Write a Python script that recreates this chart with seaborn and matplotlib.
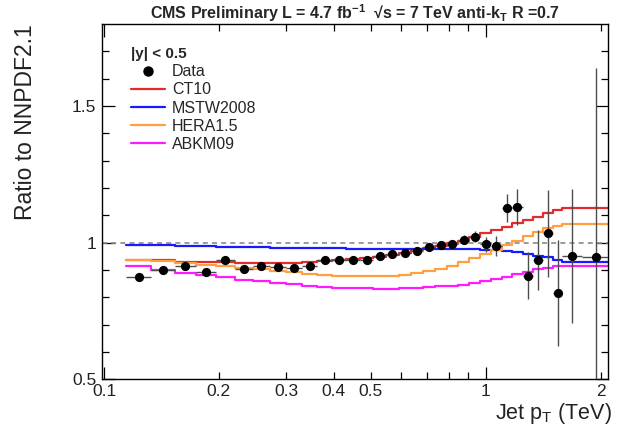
import numpy as np
import pandas as pd
import matplotlib
matplotlib.use("Agg")
import matplotlib.pyplot as plt
import seaborn as sns
from matplotlib.ticker import FixedLocator, FixedFormatter, NullFormatter
from matplotlib.lines import Line2D

# ---------------- data ----------------
bin_edges_gev = [114, 133, 153, 174, 196, 220, 245, 272, 300, 330, 362, 395, 430, 468,
                 507, 548, 592, 638, 686, 737, 790, 846, 905, 967, 1032, 1101, 1172,
                 1248, 1327, 1410, 1497, 1588, 1784, 2116]

data_ratio = [0.876, 0.901, 0.915, 0.894, 0.938, 0.905, 0.915, 0.911, 0.908, 0.916,
              0.935, 0.935, 0.938, 0.937, 0.950, 0.960, 0.961, 0.971, 0.984, 0.990,
              0.996, 1.011, 1.022, 0.994, 0.988, 1.127, 1.132, 0.880, 0.936, 1.034,
              0.815, 0.953, 0.948]
data_err = [0.006] * 13 + [0.007, 0.008, 0.008, 0.009, 0.010, 0.011, 0.012, 0.014,
                           0.016, 0.019, 0.027, 0.035, 0.051, 0.066, 0.085, 0.110,
                           0.158, 0.194, 0.245, 0.690]

ct10 = [0.937, 0.937, 0.929, 0.928, 0.928, 0.927, 0.926, 0.926, 0.927, 0.929, 0.932,
        0.935, 0.939, 0.943, 0.948, 0.955, 0.963, 0.972, 0.980, 0.988, 0.998, 1.008,
        1.020, 1.034, 1.046, 1.056, 1.071, 1.083, 1.095, 1.108, 1.118, 1.127, 1.127]
mstw2008 = [0.992, 0.991, 0.989, 0.988, 0.986, 0.985, 0.983, 0.982, 0.981, 0.980,
            0.980, 0.979, 0.978, 0.977, 0.977, 0.977, 0.977, 0.977, 0.977, 0.977,
            0.977, 0.976, 0.976, 0.974, 0.972, 0.970, 0.966, 0.960, 0.953, 0.947,
            0.938, 0.928, 0.928]
hera15 = [0.937, 0.932, 0.926, 0.920, 0.913, 0.908, 0.903, 0.897, 0.892, 0.887, 0.883,
          0.880, 0.878, 0.877, 0.877, 0.878, 0.882, 0.889, 0.897, 0.905, 0.915, 0.930,
          0.943, 0.958, 0.975, 0.993, 1.008, 1.025, 1.040, 1.053, 1.062, 1.067, 1.067]
abkm09 = [0.913, 0.901, 0.889, 0.883, 0.873, 0.864, 0.860, 0.853, 0.848, 0.843, 0.839,
          0.836, 0.834, 0.833, 0.832, 0.832, 0.833, 0.834, 0.837, 0.840, 0.843, 0.847,
          0.853, 0.860, 0.868, 0.876, 0.885, 0.893, 0.902, 0.908, 0.913, 0.916, 0.916]

theory_names = ["CT10", "MSTW2008", "HERA1.5", "ABKM09"]
theory_values = [ct10, mstw2008, hera15, abkm09]
theory_colors = ["#e32b2b", "#1a1aff", "#ff9f3f", "#ff1aff"]

xtick_major = [0.1, 1]
xtick_major_labels = ["0.1", "1"]
xtick_minor = [0.2, 0.3, 0.4, 0.5, 0.6, 0.7, 0.8, 0.9, 2]
xtick_minor_labels = ["0.2", "0.3", "0.4", "0.5", "", "", "", "", "2"]
ytick_major = [0.5, 1.0, 1.5]
ytick_major_labels = ["0.5", "1", "1.5"]
ytick_minor = [0.6, 0.7, 0.8, 0.9, 1.1, 1.2, 1.3, 1.4, 1.6, 1.7]

# ---------------- derived ----------------
edges = np.array(bin_edges_gev) / 1000.0
lo, hi = edges[:-1], edges[1:]
centers = np.sqrt(lo * hi)

sns.set_theme(style="ticks")
plt.rcParams["font.family"] = ["Liberation Sans", "DejaVu Sans"]
plt.rcParams["mathtext.fontset"] = "custom"
plt.rcParams["mathtext.rm"] = "Liberation Sans"
plt.rcParams["mathtext.it"] = "Liberation Sans"
plt.rcParams["mathtext.bf"] = "Liberation Sans:bold"

W, H = 617, 437
fig = plt.figure(figsize=(W / 100, H / 100), dpi=100)
ax = fig.add_axes([102 / W, 1 - 379.4 / H, (608 - 102) / W, (379.4 - 24) / H])
ax.set_xscale("log")

ax.axhline(1.0, color="#8a8a8a", lw=1.2, ls=(0, (3, 2.5)), zorder=1)

for name, vals, col in zip(theory_names, theory_values, theory_colors):
    df = pd.DataFrame({"x": edges, "y": list(vals) + [vals[-1]]})
    sns.lineplot(data=df, x="x", y="y", ax=ax, color=col, lw=1.6,
                 drawstyle="steps-post", estimator=None, sort=False, zorder=2)

ax.errorbar(centers, data_ratio, yerr=data_err,
            xerr=[centers - lo, hi - centers], fmt="none",
            ecolor="#4d4d4d", elinewidth=1.0, capsize=0, zorder=3)
sns.scatterplot(x=centers, y=data_ratio, ax=ax, color="black", s=44,
                edgecolor="black", linewidth=0, zorder=4)

ax.set_xlim(0.0988, 2.09)
ax.set_ylim(0.5, 1.8)
ax.set_xlabel("")
ax.set_ylabel("")

ax.xaxis.set_major_locator(FixedLocator(xtick_major))
ax.xaxis.set_major_formatter(FixedFormatter(xtick_major_labels))
ax.xaxis.set_minor_locator(FixedLocator(xtick_minor))
ax.xaxis.set_minor_formatter(FixedFormatter(xtick_minor_labels))
ax.yaxis.set_major_locator(FixedLocator(ytick_major))
ax.yaxis.set_major_formatter(FixedFormatter(ytick_major_labels))
ax.yaxis.set_minor_locator(FixedLocator(ytick_minor))
ax.yaxis.set_minor_formatter(NullFormatter())

ax.tick_params(which="both", direction="in", top=True, right=True,
               color="black", width=0.9, labelsize=12.5, labelcolor="#222222")
ax.tick_params(which="major", length=9)
ax.tick_params(which="minor", length=5)
ax.tick_params(axis="x", which="both", pad=3)
ax.tick_params(axis="y", which="both", pad=4)
for s in ax.spines.values():
    s.set_color("black")
    s.set_linewidth(1.0)

# titles / labels
ax.set_title(r"CMS Preliminary L = 4.7 fb$^{\mathbf{-1}}$  √s = 7 TeV anti-k$_{\mathbf{T}}$ R =0.7",
             fontsize=11.5, fontweight="bold", pad=3)
fig.text(26 / W, 1 - 24 / H, "Ratio to NNPDF2.1", rotation=90, ha="center", va="top",
         fontsize=16.5, color="#222222")
fig.text(612 / W, 1 - 401 / H, r"Jet p$_{\mathrm{T}}$ (TeV)", ha="right", va="top",
         fontsize=15.5, color="#222222")

# legend
handles = [Line2D([], [], ls="none", marker="o", color="black", markersize=6.5)]
handles += [Line2D([], [], color=c, lw=1.6) for c in theory_colors]
labels = ["Data"] + theory_names
leg = ax.legend(handles, labels, title="|y| < 0.5", loc="upper left",
                bbox_to_anchor=(0.058, 0.935), frameon=False, fontsize=11.5,
                title_fontproperties={"weight": "bold", "size": 11},
                handlelength=2.1, handletextpad=0.45, labelspacing=0.2,
                borderpad=0, borderaxespad=0, alignment="left")

fig.savefig("out.png", dpi=100)
